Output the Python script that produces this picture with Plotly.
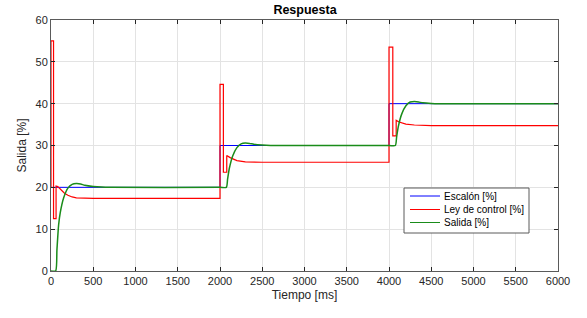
import plotly.graph_objects as go

# Setpoint (Escalón)
t_step = [0, 2000, 2000, 4000, 4000, 6000]
v_step = [20, 20, 30, 30, 40, 40]

# Control law (Ley de control)
t_ctrl = [0, 0, 30, 30, 60, 60, 80, 120, 160, 200, 250, 300, 400, 500, 2000,
          2000, 2040, 2040, 2080, 2080, 2120, 2160, 2200, 2300, 2400, 2500, 4000,
          4000, 4045, 4045, 4085, 4085, 4120, 4160, 4200, 4300, 4400, 4500, 6000]
v_ctrl = [20, 55, 55, 12.5, 12.5, 20.3, 20.2, 19.3, 18.6, 18.1, 17.7, 17.5, 17.4, 17.35, 17.35,
          44.6, 44.6, 23.6, 23.6, 27.6, 27.1, 26.7, 26.4, 26.1, 26.0, 26.0, 26.0,
          53.5, 53.5, 32.3, 32.3, 36.0, 35.6, 35.3, 35.1, 34.9, 34.8, 34.75, 34.75]

# Output (Salida)
t_out = [0, 55, 70, 90, 110, 150, 200, 250, 300, 350, 400, 500, 600, 700, 2000,
         2075, 2090, 2110, 2150, 2200, 2250, 2300, 2350, 2400, 2500, 2600, 4000,
         4075, 4090, 4110, 4150, 4200, 4250, 4300, 4350, 4400, 4500, 4600, 6000]
v_out = [0, 0, 5, 11, 14, 17.5, 19.8, 20.7, 20.9, 20.8, 20.5, 20.2, 20.05, 20, 20,
         20, 22, 24.5, 27.5, 29.5, 30.4, 30.6, 30.5, 30.3, 30.1, 30, 30,
         30, 32, 34.5, 37.5, 39.5, 40.4, 40.5, 40.4, 40.2, 40.05, 40, 40]

x_ticks = [0, 500, 1000, 1500, 2000, 2500, 3000, 3500, 4000, 4500, 5000, 5500, 6000]
y_ticks = [0, 10, 20, 30, 40, 50, 60]

series_names = ["Escalón [%]", "Ley de control [%]", "Salida [%]"]
series_colors = ["#0000FF", "#FF0000", "#1A8C1A"]

FONT = "Liberation Sans, Arial, sans-serif"

fig = go.Figure()
fig.add_trace(go.Scatter(x=t_step, y=v_step, mode="lines", name=series_names[0],
                         line=dict(color=series_colors[0], width=1)))
fig.add_trace(go.Scatter(x=t_ctrl, y=v_ctrl, mode="lines", name=series_names[1],
                         line=dict(color=series_colors[1], width=1.2)))
fig.add_trace(go.Scatter(x=t_out, y=v_out, mode="lines", name=series_names[2],
                         line=dict(color=series_colors[2], width=1.5, shape="spline", smoothing=0.6)))

axis_common = dict(
    showgrid=True, gridcolor="#E3E3E3", gridwidth=1,
    showline=True, linecolor="#5A5A5A", linewidth=1, mirror="ticks",
    ticks="inside", ticklen=4, tickcolor="#262626",
    tickfont=dict(family=FONT, size=11, color="#262626"),
    zeroline=False,
)

W, H = 587, 318
L, T, R, B = 51, 20, 29, 47
PX0, PY0 = 51, 20
PW, PH = 507, 251


def px(x):
    return (x - PX0) / PW


def py(y):
    return (PY0 + PH - y) / PH


shapes = [dict(type="rect", xref="paper", yref="paper",
               x0=px(404), x1=px(529), y0=py(233), y1=py(188),
               line=dict(color="#5A5A5A", width=1), fillcolor="white", layer="above")]
annotations = []
item_y = [196, 209.5, 222.5]
for name, color, yy in zip(series_names, series_colors, item_y):
    shapes.append(dict(type="line", xref="paper", yref="paper",
                       x0=px(410), x1=px(440), y0=py(yy), y1=py(yy),
                       line=dict(color=color, width=1), layer="above"))
    annotations.append(dict(xref="paper", yref="paper", x=px(442), y=py(yy),
                            xanchor="left", yanchor="middle", showarrow=False,
                            text=name, font=dict(family=FONT, size=10, color="#000000")))

fig.update_layout(
    width=W, height=H,
    margin=dict(l=L, r=R, t=T, b=B),
    paper_bgcolor="white", plot_bgcolor="white",
    title=dict(text="<b>Respuesta</b>", x=305 / W, xanchor="center",
               y=1 - 10 / H, yanchor="middle",
               font=dict(family=FONT, size=12.5, color="#000000")),
    xaxis=dict(range=[0, 6000], tickvals=x_ticks, ticktext=[str(v) for v in x_ticks],
               title=dict(text="Tiempo [ms]", standoff=4,
                          font=dict(family=FONT, size=12, color="#262626")),
               **axis_common),
    yaxis=dict(range=[0, 60], tickvals=y_ticks, ticktext=[str(v) for v in y_ticks],
               title=dict(text="Salida [%]", standoff=6,
                          font=dict(family=FONT, size=12, color="#262626")),
               **axis_common),
    shapes=shapes,
    annotations=annotations,
    showlegend=False,
)

fig.write_html("out.html", config={"displayModeBar": False},
               post_script="document.body.style.margin='0px';document.body.style.padding='0px';")
